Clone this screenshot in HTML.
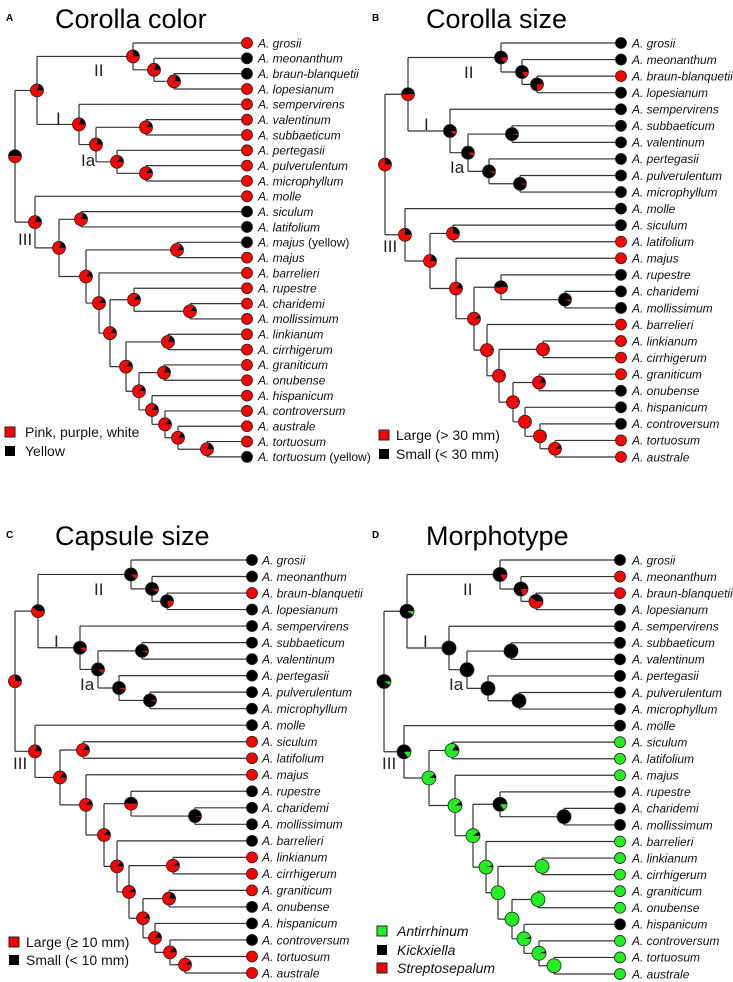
<!DOCTYPE html>
<html><head><meta charset="utf-8">
<style>
html,body{margin:0;padding:0;background:#fff;}
svg{display:block;font-family:"Liberation Sans",sans-serif;}
.tip{font-style:italic;font-size:12px;fill:#111;}
.lab{font-size:17px;fill:#222;}
.leg{font-size:14px;fill:#111;}
.ttl{font-size:27px;fill:#000;}
.let{font-size:10px;font-weight:bold;fill:#000;}
</style></head>
<body>
<svg id="fig" width="733" height="982" viewBox="0 0 733 982" xmlns="http://www.w3.org/2000/svg">
<text class="let" x="6" y="21">A</text>
<text class="ttl" x="55" y="28">Corolla color</text>
<text class="let" x="372" y="21">B</text>
<text class="ttl" x="426" y="28">Corolla size</text>
<text class="let" x="6" y="538">C</text>
<text class="ttl" x="55" y="545">Capsule size</text>
<text class="let" x="372" y="538">D</text>
<text class="ttl" x="426" y="545">Morphotype</text>

<g>
<rect x="5" y="427" width="10" height="10" fill="#f00" stroke="#222"/>
<text class="leg" x="25" y="437">Pink, purple, white</text>
<rect x="5" y="446" width="10" height="10" fill="#000"/>
<text class="leg" x="25" y="456">Yellow</text>
</g>
<g>
<rect x="379" y="430" width="10" height="10" fill="#f00" stroke="#222"/>
<text class="leg" x="396" y="440">Large (&gt; 30 mm)</text>
<rect x="379" y="449" width="10" height="10" fill="#000"/>
<text class="leg" x="396" y="459">Small (&lt; 30 mm)</text>
</g>
<g>
<rect x="9" y="937" width="10" height="10" fill="#f00" stroke="#222"/>
<text class="leg" x="26" y="947">Large (≥ 10 mm)</text>
<rect x="9" y="955" width="10" height="10" fill="#000"/>
<text class="leg" x="26" y="965">Small (&lt; 10 mm)</text>
</g>
<g>
<rect x="377" y="926" width="10" height="10" fill="#2e2" stroke="#222"/>
<text class="leg" x="397" y="936" font-style="italic">Antirrhinum</text>
<rect x="377" y="945" width="10" height="10" fill="#000"/>
<text class="leg" x="397" y="955" font-style="italic">Kickxiella</text>
<rect x="377" y="963" width="10" height="10" fill="#f00" stroke="#222"/>
<text class="leg" x="397" y="973" font-style="italic">Streptosepalum</text>
</g>
</svg>
<script>
// ---- data ----
const treeA = [15,[37,[133,"grosii",[154,"meonanthum",[174,"braun-blanquetii","lopesianum"]]],[79,"sempervirens",[96,[146,"valentinum","subbaeticum"],[117,"pertegasii",[146,"pulverulentum","microphyllum"]]]]],[35,"molle",[59,[81,"siculum","latifolium"],[86,[177,"majus (yellow)","majus"],[99,"barrelieri",[110,[134,"rupestre",[190,"charidemi","mollissimum"]],[126,[168,"linkianum","cirrhigerum"],[139,[164,"graniticum","onubense"],[152,"hispanicum",[165,"controversum",[178,"australe",[207,"tortuosum","tortuosum (yellow)"]]]]]]]]]]]];
const treeB = [19,[42,[135,"grosii",[156,"meonanthum",[171,"braun-blanquetii","lopesianum"]]],[84,"sempervirens",[102,[146,"subbaeticum","valentinum"],[123,"pertegasii",[154,"pulverulentum","microphyllum"]]]]],[39,"molle",[64,[87,"siculum","latifolium"],[90,"majus",[108,[135,"rupestre",[199,"charidemi","mollissimum"]],[121,"barrelieri",[133,[177,"linkianum","cirrhigerum"],[147,[173,"graniticum","onubense"],[159,"hispanicum",[174,"controversum",[189,"tortuosum","australe"]]]]]]]]]]];
// internal node red fractions (preorder)
const redA = [0.5,0.8,0.75,0.8,0.8,0.8,0.8,0.85,0.85,0.85,0.8,0.8,0.8,0.85,0.85,0.85,0.85,0.85,0.85,0.85,0.8,0.85,0.8,0.85,0.85,0.85,0.8];
const redB = [0.75,0.5,0.15,0.15,0.25,0.1,0.08,0.03,0.05,0.03,0.75,0.8,0.75,0.85,0.9,0.5,0.05,0.97,0.97,0.97,0.97,0.85,0.97,0.97,0.9];
const redC = [0.75,0.6,0.12,0.08,0.2,0.1,0.1,0.05,0.05,0.03,0.8,0.85,0.85,0.85,0.85,0.5,0.02,0.85,0.9,0.9,0.9,0.8,0.85,0.85,0.9];
const greenD = [0.08,0.08,0,0,0,0,0,0,0,0,0.15,0.9,0.85,0.9,0.9,0.15,0,0.95,1,1,1,1,0.95,0.95,1];
const redD = [0,0,0.15,0.2,0.6,0,0,0,0,0,0,0,0,0,0,0,0,0,0,0,0,0,0,0,0];
// tip states
const tipRedA = ["grosii","lopesianum","sempervirens","valentinum","subbaeticum","pertegasii","pulverulentum","microphyllum","molle","majus","barrelieri","rupestre","charidemi","mollissimum","linkianum","cirrhigerum","graniticum","onubense","hispanicum","controversum","australe","tortuosum"];
const tipRedB = ["braun-blanquetii","latifolium","majus","barrelieri","linkianum","cirrhigerum","graniticum","tortuosum","australe"];
const tipRedC = ["braun-blanquetii","siculum","latifolium","majus","linkianum","cirrhigerum","graniticum","tortuosum","australe"];
const tipGreenD = ["siculum","latifolium","majus","barrelieri","linkianum","cirrhigerum","graniticum","onubense","controversum","tortuosum","australe"];
const tipRedD = ["meonanthum","braun-blanquetii"];
const cladeLabels = ["II","I","Ia","III"];

const RED="#ff0000", GREEN="#22ee22", BLK="#000";
const svg=document.getElementById('fig');
const NS="http://www.w3.org/2000/svg";
function mk(tag, parent){const e=document.createElementNS(NS,tag);parent.appendChild(e);return e;}

function pie(g,cx,cy,r,slices){
  let a=0;
  const nonzero=slices.filter(s=>s[0]>0.001);
  if(nonzero.length===1){
    const c=mk('circle',g);c.setAttribute('cx',cx);c.setAttribute('cy',cy);c.setAttribute('r',r);c.setAttribute('fill',nonzero[0][1]);
  } else {
    nonzero.forEach(s=>{
      const a0=a*2*Math.PI, a1=(a+s[0])*2*Math.PI; a+=s[0];
      const p=mk('path',g);
      const large=(a1-a0)>Math.PI?1:0;
      p.setAttribute('d',`M${cx},${cy}L${cx+r*Math.cos(a0)},${cy+r*Math.sin(a0)}A${r},${r} 0 ${large} 1 ${cx+r*Math.cos(a1)},${cy+r*Math.sin(a1)}Z`);
      p.setAttribute('fill',s[1]);
    });
  }
  const o=mk('circle',g);o.setAttribute('cx',cx);o.setAttribute('cy',cy);o.setAttribute('r',r);
  o.setAttribute('fill','none');o.setAttribute('stroke','#222');o.setAttribute('stroke-width','0.8');
}

function drawPanel(cfg){
  const g=mk('g',svg);
  
  
  let tipIdx=0; const internals=[]; const tips=[];
  function lay(n){
    if(typeof n==="string"){const y=cfg.y0+tipIdx*cfg.dy;tipIdx++;const t={name:n,x:cfg.tipX,y:y};tips.push(t);return t;}
    const node={x:n[0]+cfg.xs,kids:[]};
    internals.push(node);
    for(let i=1;i<n.length;i++) node.kids.push(lay(n[i]));
    node.y=(node.kids[0].y+node.kids[node.kids.length-1].y)/2;
    return node;
  }
  const root=lay(cfg.tree);
  const lines=mk('g',g);
  
  
  lines.setAttribute('stroke','#333');lines.setAttribute('stroke-width','1.2');lines.setAttribute('fill','none');
  internals.forEach(n=>{
    const ys=n.kids.map(k=>k.y);
    const p=mk('path',lines);
    let d=`M${cfg.ox+n.x},${cfg.oy+Math.min(...ys)}V${cfg.oy+Math.max(...ys)}`;
    n.kids.forEach(k=>{d+=`M${cfg.ox+n.x},${cfg.oy+k.y}H${cfg.ox+k.x}`;});
    p.setAttribute('d',d);
  });
  // root stub
  const rs=mk('path',lines);rs.setAttribute('d',`M${cfg.ox+root.x},${cfg.oy+root.y}h0`);
  internals.forEach((n,i)=>{
    const pg=mk('g',g);
    
    
    pie(pg,cfg.ox+n.x,cfg.oy+n.y,cfg.r,cfg.slices(i));
  });
  tips.forEach(t=>{
    const tg=mk('g',g);
    
    
    pie(tg,cfg.ox+t.x,cfg.oy+t.y,5.5,[[1,cfg.tipColor(t.name)]]);
    const tx=mk('text',tg);tx.setAttribute('class','tip');
    tx.setAttribute('x',cfg.ox+cfg.textX);tx.setAttribute('y',cfg.oy+t.y+4.3);
    const base=t.name.replace(" (yellow)","");
    tx.textContent="A. "+base;
    if(t.name.indexOf("(yellow)")>=0){const ts=mk('tspan',tx);ts.setAttribute('font-style','normal');ts.textContent=" (yellow)";}
  });
  cfg.labels.forEach((L,i)=>{
    const t=mk('text',g);t.setAttribute('class','lab');
    t.setAttribute('x',cfg.ox+L[0]);t.setAttribute('y',cfg.oy+L[1]);
    
    
    t.textContent=cladeLabels[i];
  });
}
const labA=[[94,76],[56,124],[81,166],[18,245]];
const labB=[[98,78],[58,130],[84,173],[17,252]];
drawPanel({name:'panel-a-corolla-color',tree:treeA,ox:0,oy:0,xs:0,y0:43,dy:15.33,tipX:247,textX:258,r:6.5,
  slices:i=>[[redA[i],RED],[1-redA[i],BLK]],tipColor:n=>tipRedA.includes(n)?RED:BLK,labels:labA});
drawPanel({name:'panel-b-corolla-size',tree:treeB,ox:366,oy:0,xs:0,y0:43,dy:16.56,tipX:255,textX:266,r:6.5,
  slices:i=>[[redB[i],RED],[1-redB[i],BLK]],tipColor:n=>tipRedB.includes(n)?RED:BLK,labels:labB});
drawPanel({name:'panel-c-capsule-size',tree:treeB,ox:0,oy:517,xs:-4,y0:43,dy:16.52,tipX:252,textX:262,r:6.5,
  slices:i=>[[redC[i],RED],[1-redC[i],BLK]],tipColor:n=>tipRedC.includes(n)?RED:BLK,labels:labB.map(l=>[l[0]-4,l[1]])});
drawPanel({name:'panel-d-morphotype',tree:treeB,ox:366,oy:517,xs:-1,y0:43,dy:16.56,tipX:254,textX:266,r:7,
  slices:i=>[[greenD[i],GREEN],[redD[i],RED],[1-greenD[i]-redD[i],BLK]],
  tipColor:n=>tipGreenD.includes(n)?GREEN:(tipRedD.includes(n)?RED:BLK),labels:labB.map(l=>[l[0]-1,l[1]])});
</script>
</body></html>
